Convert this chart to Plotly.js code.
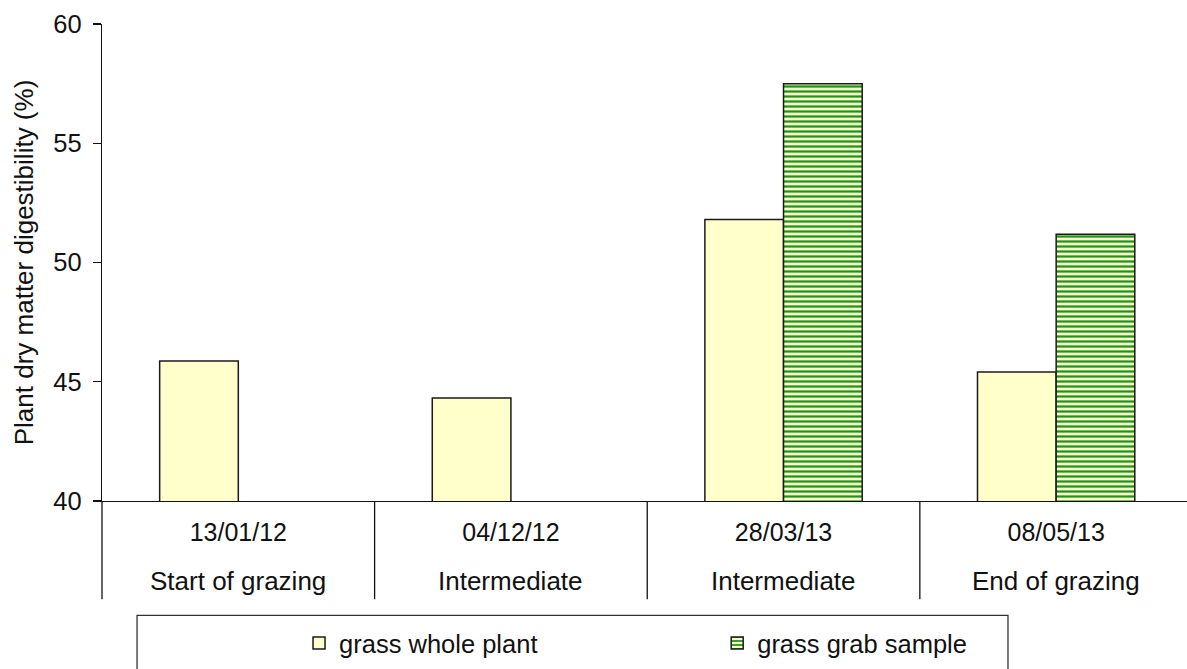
<!DOCTYPE html>
<html><head><meta charset="utf-8">
<script src="https://cdn.plot.ly/plotly-3.0.1.min.js"></script>
<style>html,body{margin:0;padding:0;background:#fff}</style>
</head><body><div id="chart" style="width:1187px;height:669px"></div>
<script>
const dates = ['13/01/12','04/12/12','28/03/13','08/05/13'];
const stages = ['Start of grazing','Intermediate','Intermediate','End of grazing'];
const wholePlant = [45.87, 44.32, 51.8, 45.41];
const grabSample = [null, null, 57.49, 51.18];
const seriesNames = ['grass whole plant','grass grab sample'];
const yTicks = [40,45,50,55,60];

const FONT = 'Liberation Sans, Arial, sans-serif';
const edge = {color:'#1a1a1a', width:1.5};

const traces = [
  {type:'bar', name:seriesNames[0], x:dates, y:wholePlant, legend:'legend',
   marker:{color:'#FFFFCC', line:edge}},
  {type:'bar', name:seriesNames[1], x:dates, y:grabSample, legend:'legend2',
   marker:{color:'#FFFFCC', line:edge,
     pattern:{shape:'-', bgcolor:'#FFFFCC', fgcolor:'#1A951A', fgopacity:1, size:5, solidity:0.45, fillmode:'replace'}}}
];

const annotations = stages.map((s,i)=>({
  x: dates[i], xref:'x', y:0, yref:'paper', yshift:-80, yanchor:'middle',
  text:s, showarrow:false, font:{family:FONT, size:26, color:'#111'}
}));

const lineStyle = {color:'#111', width:1.3};
const shapes = [0.5,1.5,2.5].map(v=>({type:'line', xref:'x', yref:'paper', x0:v, x1:v, y0:0, y1:-0.206, line:lineStyle}));
shapes.push({type:'line', xref:'paper', yref:'paper', x0:0, x1:0, y0:0, y1:-0.206, line:lineStyle});
shapes.push({type:'rect', xref:'paper', yref:'paper', x0:0.0323, x1:0.835, y0:-0.2398, y1:-0.40, line:{color:'#333', width:1.3}, fillcolor:'rgba(0,0,0,0)'});

const legFont = {family:FONT, size:25.5, color:'#111'};
const layout = {
  width:1187, height:669,
  margin:{l:102, r:0, t:24, b:168, pad:0},
  paper_bgcolor:'#fff', plot_bgcolor:'#fff',
  font:{family:FONT, size:25, color:'#111'},
  barmode:'group', bargap:0.423, bargroupgap:0,
  showlegend:true,
  legend:{orientation:'h', x:0.1816, xanchor:'left', y:-0.2985, yanchor:'middle',
    font:legFont, bgcolor:'rgba(0,0,0,0)', borderwidth:0},
  legend2:{orientation:'h', x:0.567, xanchor:'left', y:-0.2985, yanchor:'middle',
    font:legFont, bgcolor:'rgba(0,0,0,0)', borderwidth:0},
  xaxis:{type:'category', range:[-0.5, 3.48], showline:true, linecolor:'#111', linewidth:1.3,
    ticks:'', showgrid:false, zeroline:false, tickfont:{family:FONT, size:25, color:'#111'},
    ticklabelstandoff:9, fixedrange:true},
  yaxis:{range:[40,60], tickvals:yTicks, ticktext:yTicks.map(String), ticks:'outside', ticklen:8, tickwidth:1.3, tickcolor:'#111',
    showline:true, linecolor:'#111', linewidth:1.3, showgrid:false, zeroline:false,
    tickfont:{family:FONT, size:25.5, color:'#111'}, ticklabelstandoff:6,
    title:{text:'Plant dry matter digestibility (%)', font:{family:FONT, size:26, color:'#111'}, standoff:12}},
  annotations:annotations,
  shapes:shapes
};

Plotly.newPlot('chart', traces, layout, {staticPlot:true, displayModeBar:false});
</script></body></html>
